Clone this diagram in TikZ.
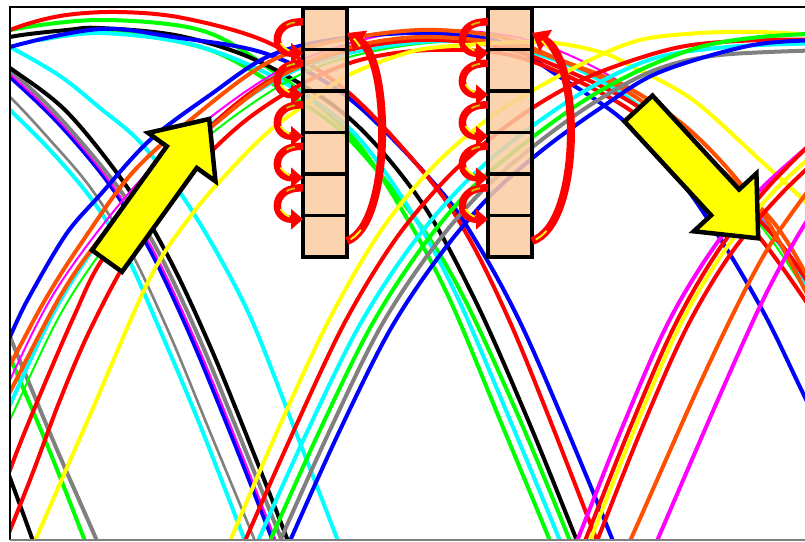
\documentclass[tikz,border=0pt]{standalone}
\usetikzlibrary{arrows.meta}
\definecolor{eyeRed}{RGB}{255,0,0}
\definecolor{eyeOrange}{RGB}{255,80,0}
\definecolor{eyeGreen}{RGB}{0,255,0}
\definecolor{eyeBlue}{RGB}{0,0,255}
\definecolor{eyeCyan}{RGB}{0,255,255}
\definecolor{eyeYellow}{RGB}{255,255,0}
\definecolor{eyeMagenta}{RGB}{255,0,255}
\definecolor{eyeGray}{RGB}{128,128,128}
\definecolor{eyeOlive}{RGB}{205,190,0}
\definecolor{peach}{RGB}{251,204,162}
% one trace of the eye pattern, through a list of points
\newcommand\eyecurve[2]{\draw[eyetrace,#1] plot[smooth,tension=0.55] coordinates {#2};}
\begin{document}
\begin{tikzpicture}[x=1pt,y=-1pt,
  eyetrace/.style={line width=4pt,line cap=round,line join=round},
  finetrace/.style={line width=2pt},
  cell/.style={draw=black,line width=3.4pt,fill=peach,fill opacity=0.85,
    minimum width=44pt,minimum height=41.5pt,inner sep=0pt,outer sep=0pt},
  swirl/.style={draw=eyeRed,line width=7.5pt,-{Triangle[width=20pt,length=12pt]}},
  bigswirl/.style={draw=eyeRed,line width=8pt,-{Triangle[width=24pt,length=16pt]}},
  glint/.style={draw=eyeYellow,line width=1.8pt},
  blockarrow/.style={fill=eyeYellow,draw=black,line width=4.5pt,line join=miter}]
\useasboundingbox (0,0) rectangle (805,541);
\fill[white] (0,0) rectangle (805,541);

\begin{scope}
\clip (10,7) rectangle (805,540);
% traces falling in from the left edge
\eyecurve{eyeGreen}{(-30,262) (10,357) (50,452) (85,541) (98,575)}
\eyecurve{eyeGray}{(-30,240) (10,337) (55,445) (97,541) (110,575)}
\eyecurve{black}{(-20,400) (10,478) (33,541) (45,575)}
\eyecurve{eyeCyan}{(-30,28) (10,47) (60,76) (100,108) (140,142) (183,197) (220,258) (253,323) (295,430) (338,541) (350,575)}
\eyecurve{eyeCyan}{(-30,72) (10,110) (50,150) (90,197) (125,252) (160,330) (200,425) (245,541) (258,575)}
\eyecurve{eyeGray,line width=2.6pt}{(-30,62) (10,97) (50,140) (90,187) (130,250) (170,335) (210,432) (255,541) (268,575)}
\eyecurve{eyeBlue}{(-30,45) (10,77) (60,125) (110,185) (150,250) (190,335) (230,432) (273,541) (286,575)}
\draw[finetrace,eyeMagenta] plot[smooth,tension=0.55] coordinates {(-30,42) (10,74) (60,122) (110,182) (152,248) (193,335) (233,432) (276,541) (289,575)};
\eyecurve{eyeGray}{(-30,40) (10,70) (60,118) (120,190) (160,255) (200,340) (240,437) (282,541) (295,575)}
\eyecurve{black}{(-30,42) (10,68) (67,112) (127,187) (170,260) (210,346) (250,444) (288,541) (300,575)}
% upper arcs on the left falling to the middle crossing
\eyecurve{eyeGreen}{(40,40) (110,32) (210,50) (290,95) (348,138) (420,225) (465,300) (520,420) (570,541) (582,575)}
\eyecurve{eyeGreen}{(-30,45) (10,30) (100,20) (200,30) (267,67) (348,132) (405,215) (450,300) (500,420) (550,541) (562,575)}
\eyecurve{eyeCyan}{(40,40) (100,33) (190,44) (270,75) (348,127) (405,202) (455,292) (510,420) (560,541) (572,575)}
\eyecurve{black}{(-30,50) (10,37) (67,30) (100,28) (180,36) (260,62) (348,117) (420,200) (475,300) (528,420) (577,541) (590,575)}
\eyecurve{eyeBlue}{(-30,66) (10,47) (100,29) (173,37) (267,54) (350,99) (440,190) (480,248) (520,322) (563,420) (613,541) (625,575)}
\eyecurve{eyeRed}{(-30,52) (10,30) (60,16) (117,12) (183,18) (267,42) (348,92) (430,180) (470,240) (510,322) (550,420) (597,541) (610,575)}
% traces rising from the left, over the top middle, falling at the right
\draw[finetrace,eyeGreen] plot[smooth,tension=0.55] coordinates {(-30,510) (10,420) (60,315) (110,240) (170,170) (240,112) (310,70) (390,48) (470,42) (550,58) (620,92) (690,150) (760,225) (805,290) (830,330)};
\draw[finetrace,eyeMagenta] plot[smooth,tension=0.55] coordinates {(-30,470) (10,380) (50,300) (95,235) (150,170) (220,110) (290,65) (370,38) (440,30) (520,38) (590,65) (660,110) (730,180) (790,255) (830,310)};
\eyecurve{eyeCyan}{(-30,500) (10,405) (55,310) (100,240) (160,170) (230,110) (300,68) (380,47) (460,41) (540,55) (610,86) (680,140) (763,223) (805,283) (830,320)}
\eyecurve{eyeBlue}{(-30,430) (13,330) (33,290) (67,233) (100,195) (150,140) (210,95) (267,57) (330,40) (420,33) (500,42) (560,77) (623,120) (680,180) (723,243) (765,315) (800,387) (830,450)}
\eyecurve{eyeRed}{(-10,580) (30,480) (60,400) (90,330) (130,255) (180,185) (240,125) (300,85) (360,60) (430,50) (510,55) (580,82) (640,117) (700,170) (760,238) (805,300) (830,340)}
\eyecurve{eyeRed}{(-20,560) (10,470) (40,395) (75,314) (100,263) (150,195) (207,130) (267,82) (340,52) (420,40) (500,47) (570,72) (640,108) (705,165) (773,235) (805,278) (830,320)}
\eyecurve{eyeOrange}{(-30,470) (10,392) (58,300) (95,245) (150,180) (210,128) (270,82) (340,50) (420,37) (510,45) (580,68) (640,100) (705,155) (770,218) (805,272) (830,320)}
\eyecurve{eyeOrange}{(-30,440) (10,365) (45,300) (80,245) (133,172) (200,112) (267,63) (330,42) (420,30) (500,37) (560,60) (627,87) (693,133) (757,205) (805,290) (830,340)}
\eyecurve{eyeYellow}{(10,600) (35,541) (90,415) (150,278) (193,213) (233,167) (267,133) (300,108) (347,76) (400,55) (440,47) (540,42) (600,52) (633,67) (693,100) (760,160) (793,190) (830,225)}
% traces rising from the middle crossing to the upper right
\eyecurve{eyeYellow}{(200,612) (230,541) (280,425) (330,318) (380,232) (430,170) (480,125) (530,92) (590,60) (640,40) (700,33) (760,32) (830,36)}
\eyecurve{eyeRed}{(215,612) (245,541) (295,428) (345,322) (395,240) (445,180) (495,135) (545,100) (600,72) (680,47) (760,40) (830,40)}
\eyecurve{eyeCyan}{(228,612) (258,541) (308,430) (358,328) (408,250) (458,190) (510,143) (570,100) (620,72) (667,55) (740,46) (830,43)}
\eyecurve{eyeGreen}{(240,612) (270,541) (320,430) (370,328) (420,250) (470,190) (525,143) (585,100) (640,70) (700,47) (760,37) (830,33)}
\eyecurve{eyeGray}{(250,612) (280,541) (330,430) (380,328) (430,252) (480,193) (535,145) (595,102) (655,70) (720,55) (830,50)}
\eyecurve{eyeBlue}{(260,612) (290,541) (340,430) (390,330) (440,255) (490,196) (545,148) (605,105) (660,72) (753,45) (830,40)}
% traces rising from the right crossing
\eyecurve{eyeMagenta}{(550,605) (577,541) (622,428) (667,325) (712,250) (762,188) (830,128)}
\eyecurve{eyeRed}{(560,605) (585,541) (630,428) (675,325) (720,248) (770,185) (830,125)}
\eyecurve{eyeYellow}{(565,605) (590,541) (635,428) (680,325) (725,250) (775,190) (830,140)}
\eyecurve{eyeRed}{(572,605) (597,541) (642,428) (687,327) (732,252) (782,193) (830,148)}
\eyecurve{eyeOrange}{(600,605) (630,541) (697,390) (740,300) (770,245) (805,195) (830,163)}
\eyecurve{eyeMagenta}{(630,605) (657,541) (720,395) (763,300) (797,237) (830,185)}
\end{scope}

% frame
\draw[line width=1.3pt] (806,7) -- (10,7) -- (10,540);
\draw[eyeGray,line width=1.3pt] (10,540) -- (806,540);

% two stacks of six cells
\foreach \i/\yc in {1/28.75,2/70.25,3/111.75,4/153.25,5/194.75,6/236.25} {
  \node[cell] (c1b\i) at (325,\yc) {};
  \node[cell] (c2b\i) at (510,\yc) {};
}

% shift arrows from each cell to the next, and the wrap-around arrow
\foreach \col/\dx in {1/45,2/50} {
  \foreach \i in {1,...,5} {
    \pgfmathtruncatemacro\j{\i+1}
    \draw[swirl] ([yshift=6.75pt]c\col b\i.west) .. controls +(-32,-2) and +(-32,0) .. ([yshift=17pt]c\col b\j.west);
    \draw[glint,draw=eyeOlive,dash pattern=on 0pt off 8pt on 9pt off 200pt] ([yshift=6.75pt]c\col b\i.west) .. controls +(-32,-2) and +(-32,0) .. ([yshift=17pt]c\col b\j.west);
    \draw[glint,dash pattern=on 0pt off 38pt on 12pt off 200pt] ([yshift=6.75pt]c\col b\i.west) .. controls +(-32,-2) and +(-32,0) .. ([yshift=17pt]c\col b\j.west);
  }
  \draw[bigswirl] ([yshift=-4.75pt]c\col b6.east) .. controls +(\dx,-16) and +(\dx-1,27) .. ([yshift=-4.25pt]c\col b1.east);
  \draw[glint,dash pattern=on 0pt off 4pt on 14pt off 190pt on 10pt off 200pt] ([yshift=-4.75pt]c\col b6.east) .. controls +(\dx,-16) and +(\dx-1,27) .. ([yshift=-4.25pt]c\col b1.east);
}

% the two block arrows
\draw[blockarrow] (92,250.2) -- (166.8,146.3) -- (148.1,132.9) -- (209.2,119) -- (215.5,181.3) -- (196.8,167.9) -- (122,271.8) -- cycle;
\draw[blockarrow] (652.5,95.6) -- (739.1,189.5) -- (756.4,173.5) -- (758.2,238.3) -- (693.8,231.3) -- (711.1,215.3) -- (624.5,121.4) -- cycle;
\end{tikzpicture}
\end{document}
